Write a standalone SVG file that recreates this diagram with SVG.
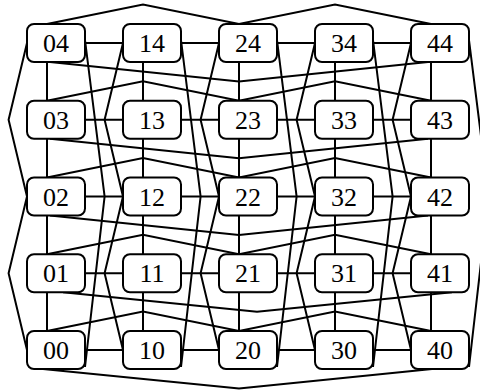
<svg xmlns="http://www.w3.org/2000/svg" width="480" height="390" viewBox="0 0 480 390">
<style>
.e{fill:none;stroke:#000;stroke-width:2;stroke-linejoin:miter}
.n rect{fill:#fff;stroke:#000;stroke-width:2}
.n text{font-family:"Liberation Serif","Times New Roman",serif;font-size:26px;text-anchor:middle;fill:#000}
</style>
<rect width="480" height="390" fill="#fff"/>
<g id="edges" class="e">
<path d="M85 43H123M181 43H219M277 43H315M373 43H411M85 119.75H123M181 119.75H219M277 119.75H315M373 119.75H411M85 196.5H123M181 196.5H219M277 196.5H315M373 196.5H411M85 273.25H123M181 273.25H219M277 273.25H315M373 273.25H411M85 350H123M181 350H219M277 350H315M373 350H411"/>
<path d="M47 62V100.75M47 138.75V177.5M47 215.5V254.25M47 292.25V331M143 62V100.75M143 138.75V177.5M143 215.5V254.25M143 292.25V331M239 62V100.75M239 138.75V177.5M239 215.5V254.25M239 292.25V331M335 62V100.75M335 138.75V177.5M335 215.5V254.25M335 292.25V331M431 62V100.75M431 138.75V177.5M431 215.5V254.25M431 292.25V331"/>
<path d="M47 24L143 4.6L239 24L335 4.6L431 24M47 100.75L143 81.35L239 100.75L335 81.35L431 100.75M47 177.5L143 158.1L239 177.5L335 158.1L431 177.5M47 254.25L143 234.85L239 254.25L335 234.85L431 254.25M47 331L143 311.6L239 331L335 311.6L431 331"/>
<path d="M50 62L239 81.4L428 62M50 138.75L239 158.15L428 138.75M50 215.5L239 234.9L428 215.5M63 292.25L257 311.65L452 292.25M43 369L239 388.4L432 369"/>
<path d="M27 43L8.6 119.75L27 196.5L8.6 273.25L27 350M123 43L104.6 119.75L123 196.5L104.6 273.25L123 350M219 43L200.6 119.75L219 196.5L200.6 273.25L219 350M315 43L296.6 119.75L315 196.5L296.6 273.25L315 350M411 43L392.6 119.75L411 196.5L392.6 273.25L411 350"/>
<path d="M85 40L104.6 196.5L85 367M181 40L200.6 196.5L181 367M277 40L296.6 196.5L277 367M373 40L392.6 196.5L373 367M469 40L488.6 196.5L469 367"/>
</g>
<g id="n04" class="n"><rect x="27" y="24" width="58" height="38" rx="7"/><text x="56" y="52">04</text></g>
<g id="n14" class="n"><rect x="123" y="24" width="58" height="38" rx="7"/><text x="152" y="52">14</text></g>
<g id="n24" class="n"><rect x="219" y="24" width="58" height="38" rx="7"/><text x="248" y="52">24</text></g>
<g id="n34" class="n"><rect x="315" y="24" width="58" height="38" rx="7"/><text x="344" y="52">34</text></g>
<g id="n44" class="n"><rect x="411" y="24" width="58" height="38" rx="7"/><text x="440" y="52">44</text></g>
<g id="n03" class="n"><rect x="27" y="100.75" width="58" height="38" rx="7"/><text x="56" y="128.75">03</text></g>
<g id="n13" class="n"><rect x="123" y="100.75" width="58" height="38" rx="7"/><text x="152" y="128.75">13</text></g>
<g id="n23" class="n"><rect x="219" y="100.75" width="58" height="38" rx="7"/><text x="248" y="128.75">23</text></g>
<g id="n33" class="n"><rect x="315" y="100.75" width="58" height="38" rx="7"/><text x="344" y="128.75">33</text></g>
<g id="n43" class="n"><rect x="411" y="100.75" width="58" height="38" rx="7"/><text x="440" y="128.75">43</text></g>
<g id="n02" class="n"><rect x="27" y="177.5" width="58" height="38" rx="7"/><text x="56" y="205.5">02</text></g>
<g id="n12" class="n"><rect x="123" y="177.5" width="58" height="38" rx="7"/><text x="152" y="205.5">12</text></g>
<g id="n22" class="n"><rect x="219" y="177.5" width="58" height="38" rx="7"/><text x="248" y="205.5">22</text></g>
<g id="n32" class="n"><rect x="315" y="177.5" width="58" height="38" rx="7"/><text x="344" y="205.5">32</text></g>
<g id="n42" class="n"><rect x="411" y="177.5" width="58" height="38" rx="7"/><text x="440" y="205.5">42</text></g>
<g id="n01" class="n"><rect x="27" y="254.25" width="58" height="38" rx="7"/><text x="56" y="282.25">01</text></g>
<g id="n11" class="n"><rect x="123" y="254.25" width="58" height="38" rx="7"/><text x="152" y="282.25">11</text></g>
<g id="n21" class="n"><rect x="219" y="254.25" width="58" height="38" rx="7"/><text x="248" y="282.25">21</text></g>
<g id="n31" class="n"><rect x="315" y="254.25" width="58" height="38" rx="7"/><text x="344" y="282.25">31</text></g>
<g id="n41" class="n"><rect x="411" y="254.25" width="58" height="38" rx="7"/><text x="440" y="282.25">41</text></g>
<g id="n00" class="n"><rect x="27" y="331" width="58" height="38" rx="7"/><text x="56" y="359">00</text></g>
<g id="n10" class="n"><rect x="123" y="331" width="58" height="38" rx="7"/><text x="152" y="359">10</text></g>
<g id="n20" class="n"><rect x="219" y="331" width="58" height="38" rx="7"/><text x="248" y="359">20</text></g>
<g id="n30" class="n"><rect x="315" y="331" width="58" height="38" rx="7"/><text x="344" y="359">30</text></g>
<g id="n40" class="n"><rect x="411" y="331" width="58" height="38" rx="7"/><text x="440" y="359">40</text></g>
</svg>
